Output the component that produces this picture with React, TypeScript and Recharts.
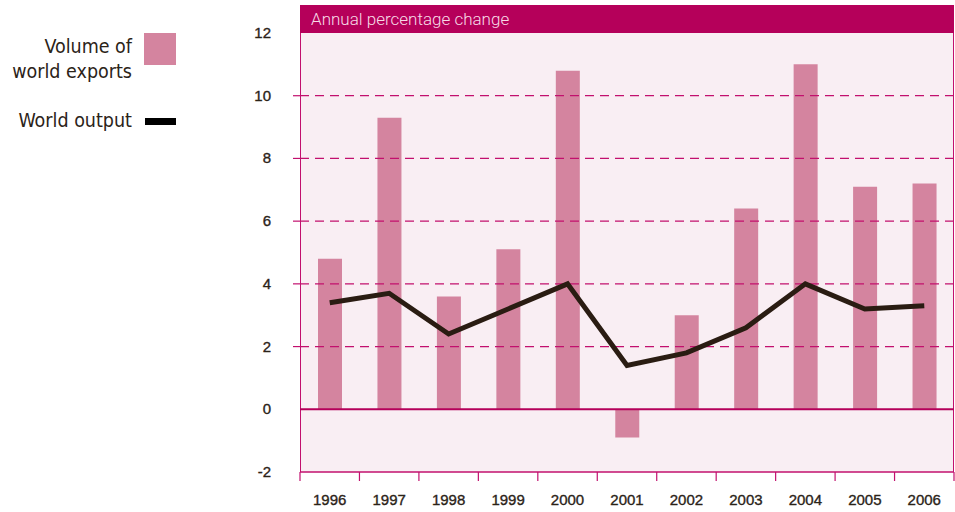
import React from 'react';
import { ComposedChart, Bar, Line, XAxis, YAxis, ReferenceLine } from 'recharts';

const years = ['1996', '1997', '1998', '1999', '2000', '2001', '2002', '2003', '2004', '2005', '2006'];
const exportsVolume = [4.8, 9.3, 3.6, 5.1, 10.8, -0.9, 3.0, 6.4, 11.0, 7.1, 7.2];
const worldOutput = [3.4, 3.7, 2.4, 3.2, 4.0, 1.4, 1.8, 2.6, 4.0, 3.2, 3.3];
const yTicks = [-2, 0, 2, 4, 6, 8, 10, 12];
const gridValues = [2, 4, 6, 8, 10];

const data = years.map((y, i) => ({ year: y, exports: exportsVolume[i], output: worldOutput[i] }));

const MAGENTA = '#b5005a';
const LINE_MAG = '#c2106e';
const BAR = '#d4849f';
const BG = '#f9eef3';
const TEXT = '#2b2318';

const tickTextStyle: React.CSSProperties = { stroke: TEXT, strokeWidth: 0.35 };

const YTick = (props: any) => {
  const { x, y, payload } = props;
  const v = payload.value;
  const showDash = gridValues.includes(v);
  return (
    <g>
      <text x={x - 29} y={y + 5} textAnchor="end" fill={TEXT} fontSize={15} fontFamily="'Liberation Sans', Arial, sans-serif" style={tickTextStyle}>
        {v}
      </text>
      {showDash && <line x1={x - 7} x2={x} y1={y} y2={y} stroke={LINE_MAG} strokeWidth={1.2} />}
    </g>
  );
};

const XTick = (props: any) => {
  const { x, y, payload } = props;
  const off = payload.offset || 0;
  const last = payload.index === years.length - 1;
  return (
    <g>
      <line x1={x - off} x2={x - off} y1={y} y2={y + 9} stroke={LINE_MAG} strokeWidth={1.2} />
      {last && <line x1={x + off} x2={x + off} y1={y} y2={y + 9} stroke={LINE_MAG} strokeWidth={1.2} />}
      <text x={x} y={y + 33} textAnchor="middle" fill={TEXT} fontSize={15} fontFamily="'Liberation Sans', Arial, sans-serif" style={tickTextStyle}>
        {payload.value}
      </text>
    </g>
  );
};

const legendFont: React.CSSProperties = {
  position: 'absolute',
  fontFamily: "'Liberation Sans Narrow', 'DejaVu Sans Condensed', 'Liberation Sans', sans-serif",
  fontSize: 19.5,
  color: TEXT,
  textAlign: 'right',
  lineHeight: '25px',
  whiteSpace: 'nowrap',
};

export default function App() {
  return (
    <div style={{ position: 'absolute', left: 0, top: 0, width: 955, height: 512, background: '#fff' }}>
      <div style={{ position: 'absolute', left: 300, top: 5, width: 654, height: 467, background: BG, borderLeft: `1.5px solid ${LINE_MAG}`, borderRight: `1.5px solid ${LINE_MAG}`, boxSizing: 'border-box' }} />
      <div style={{ position: 'absolute', left: 0, top: 0 }}>
        <ComposedChart width={955} height={512} data={data} margin={{ top: 33, right: 1, bottom: 0, left: 260 }} barSize={24}>
          <XAxis dataKey="year" axisLine={{ stroke: LINE_MAG, strokeWidth: 1.5 }} tickLine={false} tick={<XTick />} interval={0} height={40} tickSize={0} tickMargin={0} />
          <YAxis domain={[-2, 12]} ticks={yTicks} axisLine={false} tickLine={false} tick={<YTick />} width={40} tickMargin={0} tickSize={0} interval={0} />
          {gridValues.map((v) => (
            <ReferenceLine key={v} y={v} stroke={LINE_MAG} strokeWidth={1.2} strokeDasharray="9 6" />
          ))}
          <Bar dataKey="exports" fill={BAR} isAnimationActive={false} />
          <ReferenceLine y={0} stroke={MAGENTA} strokeWidth={2} />
          <Line dataKey="output" stroke="#2a1c12" strokeWidth={5} dot={false} isAnimationActive={false} strokeLinejoin="miter" />
        </ComposedChart>
      </div>
      <div style={{ position: 'absolute', left: 300, top: 5, width: 654, height: 28, background: MAGENTA, color: '#f7dbe7', fontFamily: "Roboto, 'Liberation Sans', sans-serif", fontSize: 17, fontWeight: 300, lineHeight: '28px', paddingLeft: 11, boxSizing: 'border-box' }}>
        Annual percentage change
      </div>
      <div style={{ ...legendFont, right: 955 - 132, top: 34 }}>
        Volume of<br />world exports
      </div>
      <div style={{ position: 'absolute', left: 144, top: 33, width: 32, height: 32, background: BAR }} />
      <div style={{ ...legendFont, right: 955 - 132, top: 108 }}>World output</div>
      <div style={{ position: 'absolute', left: 145, top: 118, width: 31, height: 7, background: '#000' }} />
    </div>
  );
}
